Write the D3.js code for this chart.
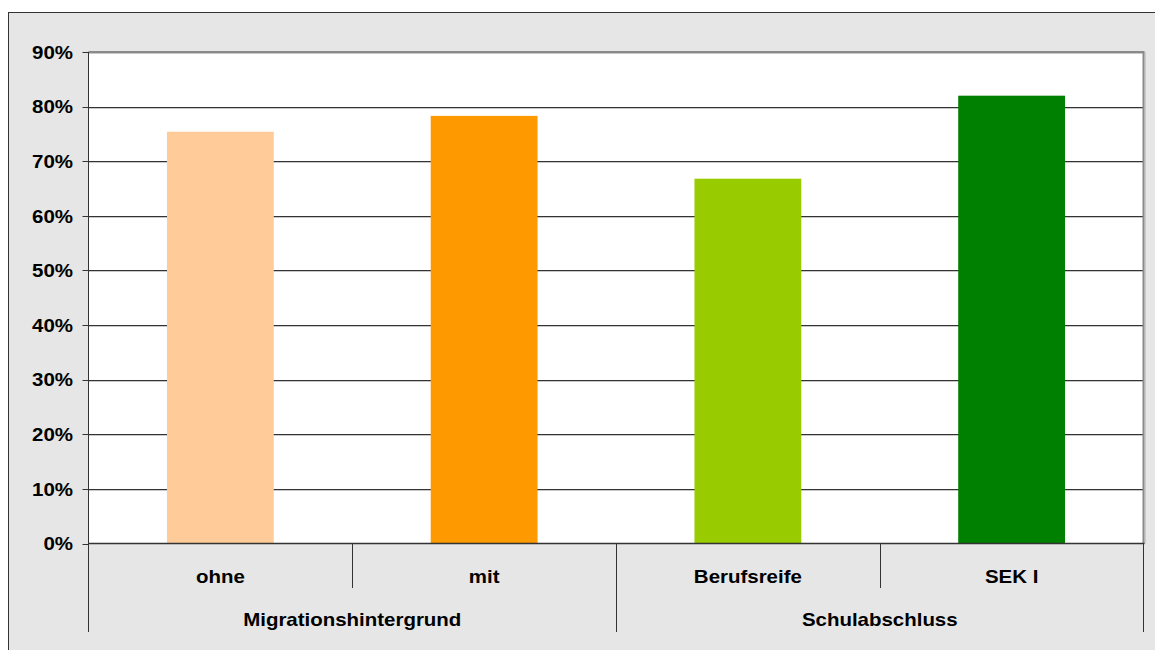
<!DOCTYPE html>
<html>
<head>
<meta charset="utf-8">
<script src="https://cdn.jsdelivr.net/npm/d3@7"></script>
<style>
  html, body { margin: 0; padding: 0; background: #ffffff; }
  svg { display: block; }
  text { font-family: "Liberation Sans", Arial, sans-serif; font-weight: bold; fill: #000; }
</style>
</head>
<body>
<svg id="chart" width="1155" height="650"></svg>
<script>
// Share of respondents per category (fraction of 1)
const categories = ["ohne", "mit", "Berufsreife", "SEK I"];
const values = [0.754, 0.783, 0.668, 0.820];
const barColors = ["#FFCC99", "#FF9900", "#99CC00", "#008000"];
const groupNames = ["Migrationshintergrund", "Schulabschluss"];
const groupMembers = [["ohne", "mit"], ["Berufsreife", "SEK I"]];
const yTicks = [0, 0.1, 0.2, 0.3, 0.4, 0.5, 0.6, 0.7, 0.8, 0.9];

const svg = d3.select("#chart");
const plot = { left: 88.5, right: 1143.5, top: 52, bottom: 543.5 };
const fontSize = 18.6, stretch = 1.1;

// chart frame
svg.append("rect")
  .attr("x", 8.5).attr("y", 12.5)
  .attr("width", 1160).attr("height", 660)
  .attr("fill", "#E6E6E6").attr("stroke", "#333").attr("stroke-width", 1);

const y = d3.scaleLinear().domain([0, 0.9]).range([plot.bottom, plot.top]);
const x = d3.scaleBand().domain(categories)
  .range([plot.left, plot.right])
  .paddingInner(0.595).paddingOuter(0.2975);
const band = d3.scaleBand().domain(categories).range([plot.left, plot.right]).padding(0);

// plot background
svg.append("rect")
  .attr("x", plot.left).attr("y", plot.top)
  .attr("width", plot.right - plot.left).attr("height", plot.bottom - plot.top)
  .attr("fill", "#ffffff");

// gridlines with a faint shadow line
const grid = svg.append("g");
yTicks.filter(t => t > 0).forEach(t => {
  const yy = Math.round(y(t)) + 0.5;
  grid.append("line").attr("x1", plot.left).attr("x2", plot.right)
    .attr("y1", yy + 1).attr("y2", yy + 1).attr("stroke", "#c8c8c8").attr("stroke-width", 1);
  grid.append("line").attr("x1", plot.left).attr("x2", plot.right)
    .attr("y1", yy).attr("y2", yy).attr("stroke", "#333").attr("stroke-width", 1);
});

// plot border on top and right
svg.append("line").attr("x1", plot.left).attr("x2", plot.right + 1)
  .attr("y1", plot.top).attr("y2", plot.top).attr("stroke", "#8a8a8a").attr("stroke-width", 2);
svg.append("line").attr("x1", plot.right).attr("x2", plot.right)
  .attr("y1", plot.top).attr("y2", plot.bottom).attr("stroke", "#8a8a8a").attr("stroke-width", 2);
svg.append("line").attr("x1", plot.right + 1.5).attr("x2", plot.right + 1.5)
  .attr("y1", plot.top).attr("y2", plot.bottom).attr("stroke", "#b0b0b0").attr("stroke-width", 1);

// bars
svg.append("g").selectAll("rect").data(categories).join("rect")
  .attr("x", d => x(d))
  .attr("width", x.bandwidth())
  .attr("y", (d, i) => y(values[i]))
  .attr("height", (d, i) => y(0) - y(values[i]))
  .attr("fill", (d, i) => barColors[i]);

// value axis
const axis = svg.append("g");
axis.append("line").attr("x1", plot.left).attr("x2", plot.left)
  .attr("y1", plot.top).attr("y2", 632).attr("stroke", "#333");
yTicks.forEach(t => {
  const yy = Math.round(y(t)) + 0.5;
  axis.append("line").attr("x1", plot.left - 6).attr("x2", plot.left)
    .attr("y1", yy).attr("y2", yy).attr("stroke", "#333");
  axis.append("text")
    .attr("transform", `translate(73,${y(t) + 6.7}) scale(${stretch},1)`)
    .attr("text-anchor", "end").attr("font-size", fontSize)
    .text(d3.format(".0%")(t));
});
axis.append("line").attr("x1", plot.left).attr("x2", plot.right + 1)
  .attr("y1", plot.bottom).attr("y2", plot.bottom).attr("stroke", "#333").attr("stroke-width", 1.5);

// category axis: inner dividers and group dividers
const cat = svg.append("g");
categories.forEach((c, i) => {
  if (i > 0) {
    const isGroupEdge = groupMembers.some(g => g[0] === c);
    const xx = Math.round(band(c)) + 0.5;
    cat.append("line").attr("x1", xx).attr("x2", xx)
      .attr("y1", plot.bottom).attr("y2", isGroupEdge ? 632 : 588).attr("stroke", "#333");
  }
  cat.append("text")
    .attr("transform", `translate(${band(c) + band.bandwidth() / 2},582.5) scale(${stretch},1)`)
    .attr("text-anchor", "middle").attr("font-size", fontSize)
    .text(c);
});
const rightEdge = Math.round(band.range()[1]) - 0.5;
cat.append("line").attr("x1", rightEdge).attr("x2", rightEdge)
  .attr("y1", plot.bottom).attr("y2", 632).attr("stroke", "#333");

groupNames.forEach((g, i) => {
  const members = groupMembers[i];
  const x0 = band(members[0]);
  const x1 = band(members[members.length - 1]) + band.bandwidth();
  cat.append("text")
    .attr("transform", `translate(${(x0 + x1) / 2},626) scale(${stretch},1)`)
    .attr("text-anchor", "middle").attr("font-size", fontSize)
    .text(g);
});
</script>
</body>
</html>
